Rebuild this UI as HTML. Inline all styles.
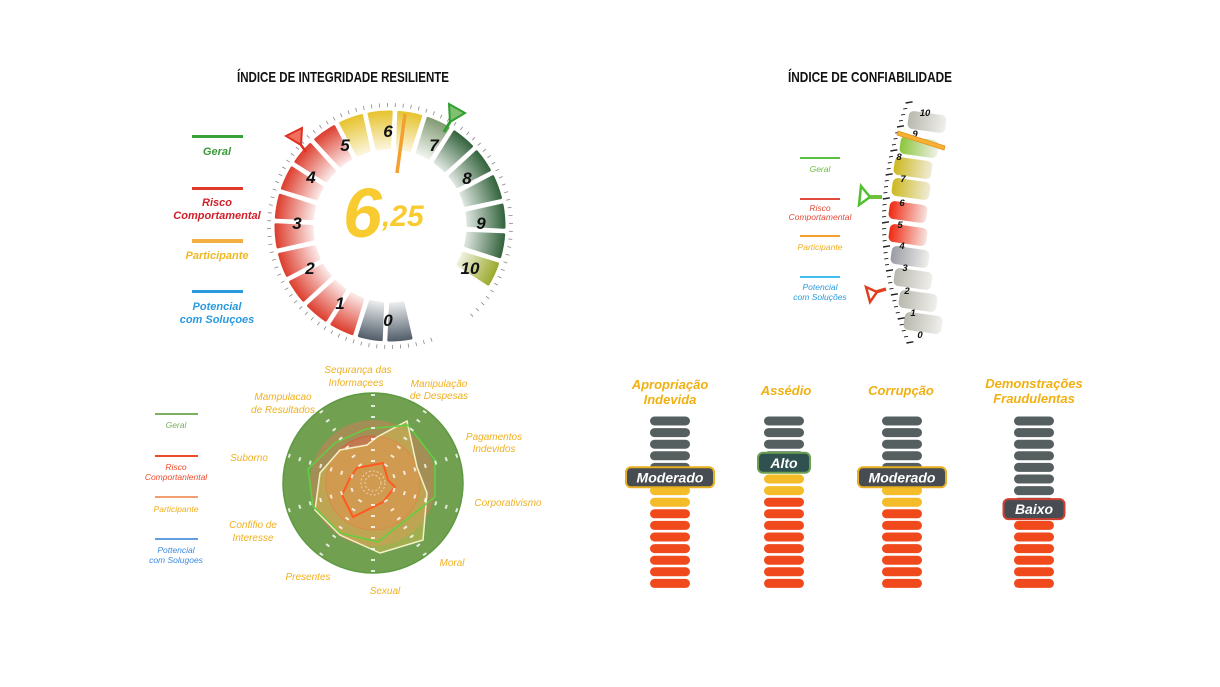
<!DOCTYPE html>
<html><head><meta charset="utf-8">
<style>
html,body{margin:0;padding:0;background:#fff;width:1220px;height:687px;overflow:hidden;font-family:"Liberation Sans",sans-serif}
svg{position:absolute;left:0;top:0}
</style></head>
<body>
<svg id="s" width="1220" height="687" viewBox="0 0 1220 687" xmlns="http://www.w3.org/2000/svg">
<defs>
<radialGradient id="gR" gradientUnits="userSpaceOnUse" cx="390" cy="226" r="116"><stop offset="0.62" stop-color="#fff"/><stop offset="1" stop-color="#dc3a2a"/></radialGradient>
<radialGradient id="gG" gradientUnits="userSpaceOnUse" cx="390" cy="226" r="116"><stop offset="0.62" stop-color="#fff"/><stop offset="1" stop-color="#4e5a66"/></radialGradient>
<radialGradient id="gY" gradientUnits="userSpaceOnUse" cx="390" cy="226" r="116"><stop offset="0.6" stop-color="#fff"/><stop offset="1" stop-color="#e6c22a"/></radialGradient>
<radialGradient id="gL" gradientUnits="userSpaceOnUse" cx="390" cy="226" r="116"><stop offset="0.62" stop-color="#fff"/><stop offset="1" stop-color="#7f9a70"/></radialGradient>
<radialGradient id="gD" gradientUnits="userSpaceOnUse" cx="390" cy="226" r="116"><stop offset="0.6" stop-color="#fff"/><stop offset="1" stop-color="#2f6038"/></radialGradient>
<radialGradient id="gO" gradientUnits="userSpaceOnUse" cx="390" cy="226" r="116"><stop offset="0.6" stop-color="#fff"/><stop offset="1" stop-color="#9aa82a"/></radialGradient>
<linearGradient id="bGray" x1="0" x2="1"><stop offset="0" stop-color="#b8b8ae"/><stop offset="1" stop-color="#f0efec"/></linearGradient>
<linearGradient id="bGray2" x1="0" x2="1"><stop offset="0" stop-color="#9a9ca4"/><stop offset="1" stop-color="#f0efec"/></linearGradient>
<linearGradient id="bGrn" x1="0" x2="1"><stop offset="0" stop-color="#8cc63a"/><stop offset="1" stop-color="#eef0e6"/></linearGradient>
<linearGradient id="bYel" x1="0" x2="1"><stop offset="0" stop-color="#cdb820"/><stop offset="1" stop-color="#f0ecd8"/></linearGradient>
<linearGradient id="bRed" x1="0" x2="1"><stop offset="0" stop-color="#f02810"/><stop offset="1" stop-color="#f6e4e0"/></linearGradient>
</defs>
<g id="gauge"></g>
<g id="slider"></g>
<g id="radar"></g>
<g id="bars"></g>
<g font-family="Liberation Sans Narrow, Liberation Sans, sans-serif" font-weight="bold" font-size="15" text-anchor="middle" fill="#111">
<text x="343" y="82" textLength="212" lengthAdjust="spacingAndGlyphs">ÍNDICE DE INTEGRIDADE RESILIENTE</text>
<text x="870" y="82" textLength="164" lengthAdjust="spacingAndGlyphs">ÍNDICE DE  CONFIABILIDADE</text>
</g>
<g font-style="italic" font-weight="bold" font-size="11" text-anchor="middle">
<rect x="192" y="135" width="51" height="3" fill="#3aa03a"/><text x="217" y="155" fill="#3a9a3a">Geral</text>
<rect x="192" y="187" width="51" height="3" fill="#e03a2a"/><text x="217" y="206" fill="#d0202a">Risco</text><text x="217" y="219" fill="#d0202a">Comportamental</text>
<rect x="192" y="239" width="51" height="4" fill="#f4b040"/><text x="217" y="259" fill="#f0b820">Participante</text>
<rect x="192" y="290" width="51" height="3" fill="#2a9ae0"/><text x="217" y="310" fill="#2a9ae0">Potencial</text><text x="217" y="323" fill="#2a9ae0">com Soluçoes</text>
</g>
<g font-style="italic" font-size="8.5" text-anchor="middle">
<rect x="800" y="157" width="40" height="2" fill="#5ac040"/><text x="820" y="172" fill="#6ac040">Geral</text>
<rect x="800" y="198" width="40" height="2" fill="#e04a3a"/><text x="820" y="211" fill="#e04a3a">Risco</text><text x="820" y="220" fill="#e04a3a">Comportamental</text>
<rect x="800" y="235" width="40" height="2" fill="#f4a030"/><text x="820" y="250" fill="#f0b020">Participante</text>
<rect x="800" y="276" width="40" height="2" fill="#40c0f0"/><text x="820" y="290" fill="#2a9ae0">Potencial</text><text x="820" y="300" fill="#2a9ae0">com Soluções</text>
</g>
<g font-style="italic" font-size="8.5" text-anchor="middle">
<rect x="155" y="413" width="43" height="2" fill="#7ab060"/><text x="176" y="428" fill="#7ab060">Geral</text>
<rect x="155" y="455" width="43" height="2" fill="#f04a2a"/><text x="176" y="470" fill="#f04a2a">Risco</text><text x="176" y="480" fill="#f04a2a">Comportanlental</text>
<rect x="155" y="496" width="43" height="2" fill="#f0a070"/><text x="176" y="512" fill="#f0b020">Participante</text>
<rect x="155" y="538" width="43" height="2" fill="#60a0e0"/><text x="176" y="553" fill="#3a8ae0">Pottencial</text><text x="176" y="563" fill="#3a8ae0">com Solugoes</text>
</g>
<g font-style="italic" font-size="10" fill="#f0b020" text-anchor="middle">
<text x="358" y="373">Sequrança das</text><text x="356" y="386">Informaçees</text>
<text x="439" y="387">Manipulação</text><text x="439" y="399">de Despesas</text>
<text x="283" y="400">Mampulacao</text><text x="283" y="413">de Resultados</text>
<text x="494" y="440">Pagamentos</text><text x="494" y="452">Indevidos</text>
<text x="249" y="461">Suborno</text>
<text x="508" y="506">Corporativismo</text>
<text x="253" y="528">Confifio de</text><text x="253" y="541">Interesse</text>
<text x="452" y="566">Moral</text>
<text x="308" y="580">Presentes</text>
<text x="385" y="594">Sexual</text>
</g>
<g font-style="italic" font-weight="bold" font-size="13" fill="#f0b010" text-anchor="middle">
<text x="670" y="389">Apropriação</text><text x="670" y="404">Indevida</text>
<text x="786" y="395">Assédio</text>
<text x="901" y="395">Corrupção</text>
<text x="1034" y="388">Demonstrações</text><text x="1034" y="403">Fraudulentas</text>
</g>
<text x="343" y="237" font-size="70" font-weight="bold" font-style="italic" fill="#f8cc30">6</text>
<text x="382" y="226" font-size="30" font-weight="bold" font-style="italic" fill="#f8cc30">,25</text>
</svg>
<script>
const NS="http://www.w3.org/2000/svg";
function el(p,t,a,txt){const e=document.createElementNS(NS,t);for(const k in a)e.setAttribute(k,a[k]);if(txt!==undefined)e.textContent=txt;document.getElementById(p).appendChild(e);return e;}
const cx=390,cy=226,r1=78,r2=114;
function pt(r,a){const t=a*Math.PI/180;return [cx+r*Math.sin(t),cy-r*Math.cos(t)];}
const fills=["gG","gG","gR","gR","gR","gR","gR","gR","gR","gR","gR","gY","gY","gY","gL","gD","gD","gD","gD","gD","gO"];
for(let i=0;i<21;i++){const c=-185+15*i,a0=c-5.6,a1=c+5.6;
 const p1=pt(r1,a0+1),p2=pt(r2,a0),p3=pt(r2,a1),p4=pt(r1,a1-1);
 el("gauge","path",{d:`M${p1}L${p2}A${r2},${r2} 0 0 1 ${p3}L${p4}A${r1},${r1} 0 0 0 ${p1}Z`,fill:"url(#"+fills[i]+")",stroke:"url(#"+fills[i]+")","stroke-width":3,"stroke-linejoin":"round"});}
for(let a=-200;a<=140;a+=3.75){const big=Math.abs(((a%30)+30)%30)<0.1;const p=pt(119,a),q=pt(big?129:123,a);
 el("gauge","line",{x1:p[0],y1:p[1],x2:q[0],y2:q[1],stroke:big?"#222":"#888","stroke-width":big?2:0.8});}
const labs=[[388,326,"0"],[340,309,"1"],[310,274,"2"],[297,229,"3"],[311,183,"4"],[345,151,"5"],[388,137,"6"],[434,151,"7"],[467,184,"8"],[481,229,"9"],[470,274,"10"]];
labs.forEach(l=>el("gauge","text",{x:l[0],y:l[1],"font-size":17,"font-weight":"bold","font-style":"italic","text-anchor":"middle",fill:"#111"},l[2]));
el("gauge","line",{x1:397,y1:173,x2:405,y2:114,stroke:"#f4a030","stroke-width":3.5});
el("gauge","path",{d:"M286,136 L302,128 L301,145Z",fill:"#f07060",stroke:"#e03020","stroke-width":2});
el("gauge","line",{x1:301,y1:145,x2:306,y2:152,stroke:"#e03020","stroke-width":2.5});
el("gauge","path",{d:"M449,104 L465,113 L450,122Z",fill:"#80c070",stroke:"#30a030","stroke-width":2});
el("gauge","line",{x1:450,y1:122,x2:444,y2:132,stroke:"#30a030","stroke-width":3});
const bars=[[927,122,"bGray"],[919,147,"bGrn"],[913,168,"bYel"],[911,189,"bYel"],[908,212,"bRed"],[908,235,"bRed"],[910,257,"bGray2"],[913,279,"bGray"],[918,301,"bGray"],[923,323,"bGray"]];
bars.forEach(b=>el("slider","rect",{x:b[0]-19,y:b[1]-9,width:38,height:18,rx:5,fill:"url(#"+b[2]+")",transform:`rotate(8 ${b[0]} ${b[1]})`}));
for(let i=0;i<=40;i++){const y=103+i*6;const t=(y-222)/120;const x=882+Math.pow(t,2)*24;const big=i%4==0;
 el("slider","line",{x1:x,y1:y,x2:x+(big?7:4),y2:y-(big?1.2:0.7),stroke:"#222","stroke-width":big?1.4:0.9});}
const sl=[[925,116,"10"],[915,137,"9"],[899,160,"8"],[903,182,"7"],[902,206,"6"],[900,228,"5"],[902,249,"4"],[905,271,"3"],[907,294,"2"],[913,316,"1"],[920,338,"0"]];
sl.forEach(l=>el("slider","text",{x:l[0],y:l[1],"font-size":9.5,"font-weight":"bold","font-style":"italic","text-anchor":"middle",fill:"#111"},l[2]));
el("slider","polygon",{points:"898,131 945,146 944,150 897,135",fill:"#f8b030",stroke:"#e09020","stroke-width":0.8});
el("slider","path",{d:"M861,186 L870,197 L859,205Z",fill:"none",stroke:"#50c030","stroke-width":2.5});
el("slider","line",{x1:870,y1:197,x2:882,y2:197,stroke:"#70c040","stroke-width":4});
el("slider","path",{d:"M866,287 L877,292 L870,302Z",fill:"none",stroke:"#e04020","stroke-width":2.5});
el("slider","line",{x1:876,y1:292,x2:886,y2:289,stroke:"#e04020","stroke-width":3.5});
const rx=373,ry=483;
el("radar","circle",{cx:rx,cy:ry,r:90,fill:"#70a050",stroke:"#5e9a40","stroke-width":1.5});
el("radar","circle",{cx:rx,cy:ry,r:63,fill:"#b08a58","fill-opacity":0.8});
el("radar","circle",{cx:rx,cy:ry,r:47,fill:"#c47a50",stroke:"#d06040","stroke-width":1});
el("radar","polygon",{points:"407,421 417,467 427,493 423,540 380,553 340,535 315,510 320,473 340,450 367,445 377,437",fill:"#e0c050","fill-opacity":0.45,stroke:"#f4f0c8","stroke-width":1.5});
el("radar","polygon",{points:"308,469 335,443 366,429 408,425 435,460 435,497 378,542 340,533 313,506",fill:"none",stroke:"#60d040","stroke-width":1.5});
el("radar","polygon",{points:"357,468 383,463 388,480 395,487 383,502 353,517 342,495 350,478",fill:"none",stroke:"#ff5a20","stroke-width":2});
[8,12].forEach(r=>el("radar","circle",{cx:rx,cy:ry,r:r,fill:"none",stroke:"#f0d0b0","stroke-width":1,"stroke-dasharray":"2 2"}));
for(let k=0;k<10;k++){const a=k*36*Math.PI/180;for(let r=22;r<=88;r+=11){const x=rx+r*Math.sin(a),y=ry-r*Math.cos(a);
 el("radar","rect",{x:x-2,y:y-1,width:4,height:2,fill:"#fff","fill-opacity":0.8,transform:`rotate(${k*36} ${x} ${y})`});}}
function col(x,types,labelRow,label,bord){for(let i=0;i<15;i++){const y=421+11.6*i;const c=types[i]=="g"?"#555f60":types[i]=="y"?"#f4bc28":"#f04a1c";
 el("bars","rect",{x:x-20,y:y-4.5,width:40,height:9,rx:4.5,fill:c});}
 const y=421+11.6*labelRow;const w=label.length*9+16;
 el("bars","rect",{x:x-w/2,y:y-10,width:w,height:20,rx:5,fill:label=="Alto"?"#2f5250":"#474c52",stroke:bord,"stroke-width":2});
 el("bars","text",{x:x,y:y+5,"text-anchor":"middle","font-size":14,"font-weight":"bold","font-style":"italic",fill:"#fff"},label);}
const t1="gggggyyyrrrrrrr".split(""),t2="ggggyyyrrrrrrrr".split(""),t4="ggggggggrrrrrrr".split("");
col(670,t1,4.85,"Moderado","#e8b020");
col(784,t2,3.6,"Alto","#6aa050");
col(902,t1,4.85,"Moderado","#e8b020");
col(1034,t4,7.6,"Baixo","#d04030");
</script>
</body></html>
